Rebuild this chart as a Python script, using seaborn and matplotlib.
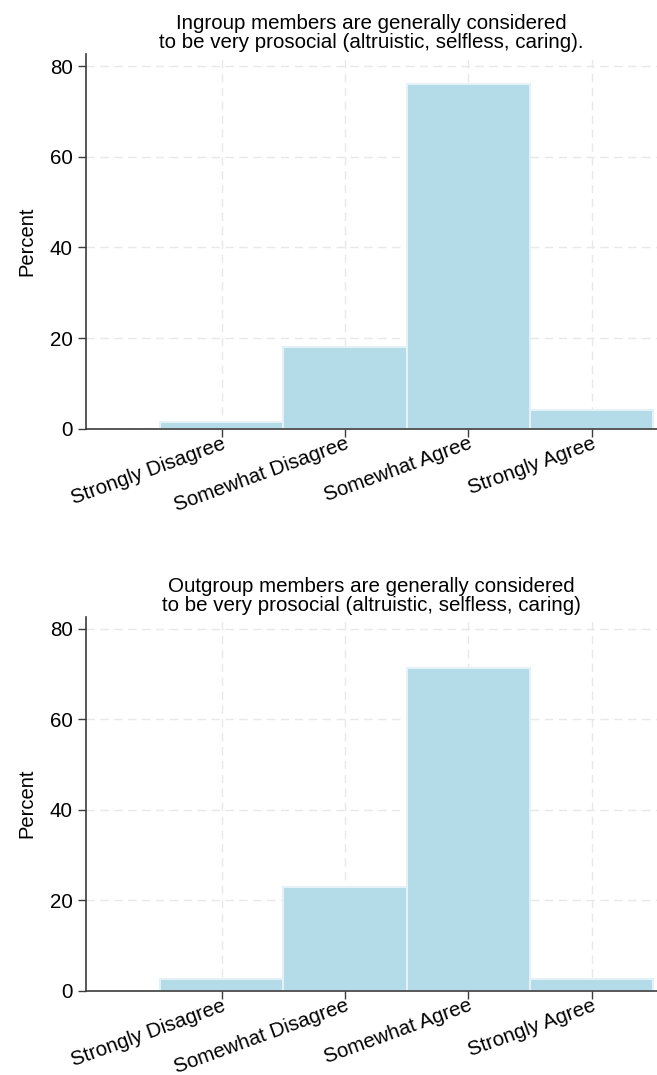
import matplotlib
matplotlib.use("Agg")
import matplotlib.pyplot as plt
import seaborn as sns
import pandas as pd

categories = ["Strongly Disagree", "Somewhat Disagree", "Somewhat Agree", "Strongly Agree"]
codes = [1, 2, 3, 4]
ingroup_pct = [1.4, 18.0, 76.0, 4.2]
outgroup_pct = [2.5, 23.0, 71.3, 2.5]
titles = [
    "Ingroup members are generally considered\nto be very prosocial (altruistic, selfless, caring).",
    "Outgroup members are generally considered\nto be very prosocial (altruistic, selfless, caring)",
]

sns.set_style("white")
plt.rcParams["font.family"] = ["Liberation Sans", "DejaVu Sans"]
plt.rcParams["text.color"] = "black"
plt.rcParams["axes.labelcolor"] = "black"

fig = plt.figure(figsize=(6.57, 10.75), dpi=100)
ax_top = fig.add_axes([0.131, 0.6012, 0.869, 0.3486])
ax_bot = fig.add_axes([0.131, 0.0784, 0.869, 0.3479])

bar_color = "#b4dbe8"
axis_color = "#3c3c3c"

for ax, pct, title in zip([ax_top, ax_bot], [ingroup_pct, outgroup_pct], titles):
    df = pd.DataFrame({"response": codes, "pct": pct})
    sns.histplot(data=df, x="response", weights="pct", discrete=True, shrink=1,
                 color=bar_color, alpha=1, edgecolor="#e4f2f7", linewidth=1.5, ax=ax)
    ax.set_xlim(-0.1, 4.53)
    ax.set_ylim(0, 82.7)
    ax.set_yticks([0, 20, 40, 60, 80])
    ax.set_xticks(codes)
    ax.set_xticklabels(categories, rotation=20, ha="right", rotation_mode="anchor")
    ax.set_xlabel("")
    ax.set_ylabel("Percent", fontsize=14.5, labelpad=10)
    ax.set_title(title, fontsize=14.8, linespacing=1.0, pad=4)
    ax.grid(True, color="#e8e8e8", linestyle=(0, (6, 4)), linewidth=1.0)
    ax.set_axisbelow(True)
    for side in ["top", "right"]:
        ax.spines[side].set_visible(False)
    for side in ["left", "bottom"]:
        ax.spines[side].set_color(axis_color)
        ax.spines[side].set_linewidth(1.2)
    ax.tick_params(axis="both", which="major", direction="out", length=5.5, width=1,
                   color=axis_color, labelcolor="black", labelsize=14.8,
                   left=True, bottom=True)
    ax.tick_params(axis="x", pad=-1.5)
    ax.tick_params(axis="y", pad=4)

fig.savefig("out.png", dpi=100)
